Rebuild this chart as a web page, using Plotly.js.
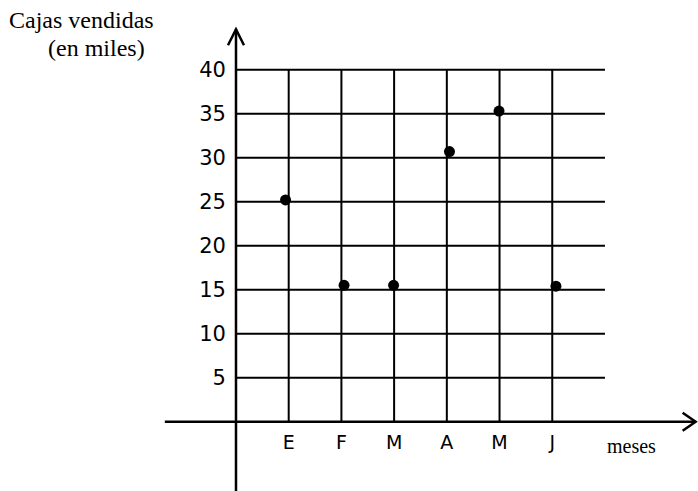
<!DOCTYPE html>
<html>
<head>
<meta charset="utf-8">
<script src="https://cdn.plot.ly/plotly-3.0.1.min.js"></script>
<style>
  body { margin: 0; background: #fff; }
  #graph { width: 698px; height: 491px; }
</style>
</head>
<body>
<div id="graph"></div>
<script>
// datos
var meses = ["E", "F", "M", "A", "M", "J"];
var posMes = [1, 2, 3, 4, 5, 6];
var puntosX = [0.94, 2.05, 2.99, 4.05, 4.99, 6.07];
var cajas = [25.2, 15.5, 15.5, 30.7, 35.3, 15.4];
var niveles = [5, 10, 15, 20, 25, 30, 35, 40];

var negro = "rgb(0, 0, 0)";
var shapes = [];

// cuadricula
niveles.forEach(function(v) {
  shapes.push({type: "line", xref: "x", yref: "y", x0: 0, x1: 7, y0: v, y1: v,
    line: {color: negro, width: 2}});
});
posMes.forEach(function(p) {
  shapes.push({type: "line", xref: "x", yref: "y", x0: p, x1: p, y0: 0, y1: 40,
    line: {color: negro, width: 2}});
});

// ejes con flecha
shapes.push({type: "line", xref: "x", yref: "y", x0: 0, x1: 0, y0: -7.9, y1: 44.6,
  line: {color: negro, width: 2.5}});
shapes.push({type: "line", xref: "x", yref: "y", x0: -1.35, x1: 8.72, y0: 0, y1: 0,
  line: {color: negro, width: 2.5}});
shapes.push({type: "path", xref: "x", yref: "y", xsizemode: "pixel", ysizemode: "pixel",
  xanchor: 8.72, yanchor: 0, path: "M -13,9 L 0,0 L -13,-9",
  line: {color: negro, width: 2.5}});
shapes.push({type: "path", xref: "x", yref: "y", xsizemode: "pixel", ysizemode: "pixel",
  xanchor: 0, yanchor: 44.6, path: "M -8,-16 L 0,0 L 8,-16",
  line: {color: negro, width: 2.5}});

var data = [{
  x: puntosX,
  y: cajas,
  type: "scatter",
  mode: "markers",
  marker: {color: negro, size: 11}
}];

var serif = {family: "Liberation Serif, Times New Roman, serif", size: 24, color: negro};
var sans = "DejaVu Sans, Verdana, sans-serif";

const layout = {
  showlegend: false,
  width: 698,
  height: 491,
  margin: {l: 0, r: 0, t: 0, b: 0},
  paper_bgcolor: "white",
  plot_bgcolor: "white",
  xaxis: {
    range: [-4.477, 8.765],
    anchor: "free",
    position: 0.1411,
    showgrid: false,
    zeroline: false,
    showline: false,
    ticks: "",
    tickvals: posMes,
    ticktext: meses,
    ticklabelstandoff: 7,
    tickfont: {family: sans, size: 19, color: negro},
    automargin: false
  },
  yaxis: {
    range: [-7.875, 47.92],
    anchor: "free",
    position: 0.3381,
    showgrid: false,
    zeroline: false,
    showline: false,
    ticks: "",
    tickvals: niveles,
    ticklabelstandoff: 10,
    tickfont: {family: sans, size: 21, color: negro},
    automargin: false
  },
  shapes: shapes,
  annotations: [
    {text: "Cajas vendidas", xref: "paper", yref: "paper", x: 7 / 698, y: 1 - 20 / 491,
      xanchor: "left", yanchor: "middle", showarrow: false, font: serif},
    {text: "(en miles)", xref: "paper", yref: "paper", x: 46 / 698, y: 1 - 48 / 491,
      xanchor: "left", yanchor: "middle", showarrow: false, font: serif},
    {text: "meses", xref: "paper", yref: "paper", x: 605 / 698, y: 1 - 446 / 491,
      xanchor: "left", yanchor: "middle", showarrow: false,
      font: {family: serif.family, size: 20, color: negro}}
  ]
};

Plotly.newPlot(document.getElementById("graph"), data, layout, {staticPlot: true});
</script>
</body>
</html>
